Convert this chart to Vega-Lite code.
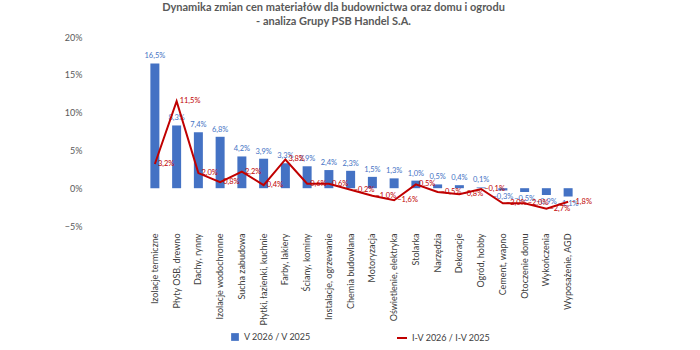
{
  "$schema": "https://vega.github.io/schema/vega-lite/v6.json",
  "width": 435,
  "height": 189,
  "autosize": {"type": "none"},
  "padding": {"left": 144, "top": 37, "right": 121, "bottom": 124},
  "background": "white",
  "config": {
    "locale": {"number": {"decimal": ",", "thousands": " ", "grouping": [3], "currency": ["", " zł"]}},
    "font": "Lato",
    "view": {"stroke": null},
    "legend": {"labelFont": "Lato", "labelFontSize": 9, "labelColor": "#404040"}
  },
  "title": {
    "text": ["Dynamika zmian cen materiałów dla budownictwa oraz domu i ogrodu", "- analiza Grupy PSB Handel S.A."],
    "font": "Lato",
    "fontSize": 11,
    "fontWeight": "bold",
    "color": "#595959",
    "anchor": "middle",
    "frame": "group",
    "dx": -28,
    "offset": 6,
    "lineHeight": 14
  },
  "data": {
    "values": [
      {"k": "Izolacje termiczne", "v": 0.165, "r": 0.032},
      {"k": "Płyty OSB, drewno", "v": 0.083, "r": 0.115},
      {"k": "Dachy, rynny", "v": 0.074, "r": 0.020},
      {"k": "Izolacje wodochronne", "v": 0.068, "r": 0.008},
      {"k": "Sucha zabudowa", "v": 0.042, "r": 0.022},
      {"k": "Płytki, łazienki, kuchnie", "v": 0.039, "r": 0.004},
      {"k": "Farby, lakiery", "v": 0.033, "r": 0.038},
      {"k": "Ściany, kominy", "v": 0.029, "r": 0.006},
      {"k": "Instalacje, ogrzewanie", "v": 0.024, "r": 0.006},
      {"k": "Chemia budowlana", "v": 0.023, "r": -0.002},
      {"k": "Motoryzacja", "v": 0.015, "r": -0.010},
      {"k": "Oświetlenie, elektryka", "v": 0.013, "r": -0.016},
      {"k": "Stolarka", "v": 0.010, "r": 0.005},
      {"k": "Narzędzia", "v": 0.005, "r": -0.005},
      {"k": "Dekoracje", "v": 0.004, "r": -0.008},
      {"k": "Ogród, hobby", "v": 0.001, "r": -0.001},
      {"k": "Cement, wapno", "v": -0.003, "r": -0.020},
      {"k": "Otoczenie domu", "v": -0.005, "r": -0.020},
      {"k": "Wykończenia", "v": -0.009, "r": -0.027},
      {"k": "Wyposażenie, AGD", "v": -0.011, "r": -0.018}
    ]
  },
  "encoding": {
    "x": {
      "field": "k",
      "type": "nominal",
      "sort": null,
      "title": null,
      "axis": {
        "labelAngle": -90,
        "labelFont": "Lato",
        "labelFontSize": 9,
        "labelColor": "#404040",
        "domain": false,
        "ticks": false,
        "labelPadding": 7,
        "labelLimit": 200
      }
    }
  },
  "layer": [
    {
      "mark": {"type": "bar", "size": 9},
      "encoding": {
        "y": {
          "field": "v",
          "type": "quantitative",
          "title": null,
          "scale": {"domain": [-0.05, 0.2], "nice": false},
          "axis": {
            "values": [-0.05, 0, 0.05, 0.1, 0.15, 0.2],
            "tickCount": 12,
            "format": ".0%",
            "grid": false,
            "domain": false,
            "ticks": false,
            "labelOverlap": false,
            "offset": 56,
            "labelPadding": 6,
            "labelFont": "Lato",
            "labelFontSize": 9,
            "labelColor": "#595959"
          }
        },
        "color": {
          "datum": "V 2026 / V 2025",
          "scale": {"range": ["#4472C4"]},
          "legend": {"orient": "none", "legendX": 86, "legendY": 295, "title": null, "symbolType": "square", "symbolSize": 60}
        }
      }
    },
    {
      "transform": [{"filter": "datum.v >= 0"}],
      "mark": {"type": "text", "fontSize": 7.5, "color": "#4472C4", "baseline": "bottom", "dy": -3},
      "encoding": {
        "y": {"field": "v", "type": "quantitative"},
        "text": {"field": "v", "type": "quantitative", "format": ".1%"}
      }
    },
    {
      "transform": [{"filter": "datum.v < 0"}],
      "mark": {"type": "text", "fontSize": 7.5, "color": "#4472C4", "baseline": "top", "dy": 3},
      "encoding": {
        "y": {"field": "v", "type": "quantitative"},
        "text": {"field": "v", "type": "quantitative", "format": ".1%"}
      }
    },
    {
      "mark": {"type": "line", "strokeWidth": 2},
      "encoding": {
        "y": {"field": "r", "type": "quantitative"},
        "stroke": {
          "datum": "I-V 2026 / I-V 2025",
          "scale": {"range": ["#C00000"]},
          "legend": {"orient": "none", "legendX": 252, "legendY": 295, "title": null, "symbolType": "stroke", "symbolStrokeWidth": 2}
        }
      }
    },
    {
      "mark": {"type": "text", "fontSize": 7.5, "color": "#C00000", "align": "left", "dx": 3, "baseline": "middle"},
      "encoding": {
        "y": {"field": "r", "type": "quantitative"},
        "text": {"field": "r", "type": "quantitative", "format": ".1%"}
      }
    }
  ],
  "resolve": {"scale": {"color": "independent", "stroke": "independent"}}
}
